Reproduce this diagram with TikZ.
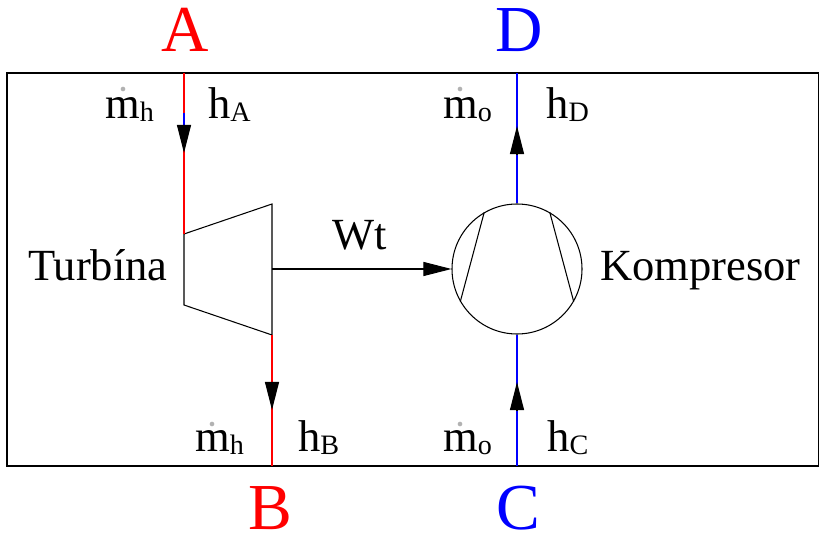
\documentclass[tikz,border=0pt]{standalone}
\usepackage{fontspec}
\setmainfont{Liberation Serif}
\usetikzlibrary{arrows.meta}
\newcommand{\biglabel}{\fontsize{56}{56}\selectfont}
\newcommand{\midlabel}{\fontsize{38}{38}\selectfont}
\newcommand{\sublabel}[2]{#1\raisebox{-2pt}{\fontsize{24}{24}\selectfont #2}}

\tikzset{
    pipe/.style={line width=0.9pt},
    flowtip/.style={-{Triangle[length=24pt,width=12pt]}},
    txt/.style={inner sep=0pt, anchor=base west, font=\midlabel},
    bigtxt/.style={inner sep=0pt, anchor=base, font=\biglabel},
    massdot/.style={circle, fill=black!30, inner sep=0pt, minimum size=4pt},
}

\begin{document}
\begin{tikzpicture}[x=0.03cm, y=0.03cm]
    \useasboundingbox (0,0) rectangle (819,533);

    % Define the outer frame
    \draw[pipe] (7,67) rectangle (819,460);

    % Define the ports on the frame
    \coordinate (Atop) at (184,460);
    \coordinate (Abl) at (184,420);
    \coordinate (Abt) at (184,408);
    \coordinate (Atip) at (184,380);
    \coordinate (Bbot) at (272,67);
    \coordinate (Bbt) at (272,151);
    \coordinate (Btip) at (272,123);
    \coordinate (Ctop) at (517,67);
    \coordinate (Cbot) at (517,123);
    \coordinate (Ctip) at (517,151);
    \coordinate (Dtop) at (517,460);
    \coordinate (Dbase) at (517,379);
    \coordinate (Dtip) at (517,407);

    % Turbine
    \coordinate (T1) at (184,299);
    \coordinate (T2) at (272,329);
    \coordinate (T3) at (272,198);
    \coordinate (T4) at (184,228);
    \coordinate (Tout) at (272,264);
    \draw[pipe] (T1) -- (T2) -- (T3) -- (T4) -- cycle;

    % Compressor
    \node[draw, pipe, circle, minimum size=130*0.03cm, inner sep=0pt] (comp) at (517,264) {};
    \draw[pipe] (comp.120) -- (comp.210);
    \draw[pipe] (comp.60) -- (comp.-30);

    % Streams
    \draw[pipe, red] (Atop) -- (T1);
    \draw[pipe, blue] (Abl) -- (Abt);
    \draw[pipe, flowtip, fill=black] (Abt) -- (Atip);
    \draw[pipe, red] (T3) -- (Bbot);
    \draw[pipe, flowtip, fill=black] (Bbt) -- (Btip);
    \draw[pipe, blue] (comp.south) -- (Cbot);
    \draw[pipe, blue] (Ctop) -- (Cbot);
    \draw[pipe, blue] (comp.north) -- (Dtop);
    \draw[pipe, flowtip, fill=black] (Cbot) -- (Ctip);
    \draw[pipe, flowtip, fill=black] (Dbase) -- (Dtip);
    \draw[pipe, flowtip, fill=black] (Tout) -- (comp.west);

    % Labels
    \node[bigtxt, red] (lA) at (185,481) {A};
    \node[bigtxt, blue] (lD) at (519,481) {D};
    \node[bigtxt, red] (lB) at (270,4) {B};
    \node[bigtxt, blue] (lC) at (518,4) {C};
    \node[txt] (lturb) at (28,252) {Turbína};
    \node[txt] (lkomp) at (600,252) {Kompresor};
    \node[txt] (lwt) at (332,283) {Wt};

    \node[txt] (mA) at (105,414) {\sublabel{m}{h}};
    \node[txt] (hA) at (208,414) {\sublabel{h}{A}};
    \node[txt] (mD) at (443,414) {\sublabel{m}{o}};
    \node[txt] (hD) at (546,414) {\sublabel{h}{D}};
    \node[txt] (mB) at (195,81) {\sublabel{m}{h}};
    \node[txt] (hB) at (298,81) {\sublabel{h}{B}};
    \node[txt] (mC) at (443,81) {\sublabel{m}{o}};
    \node[txt] (hC) at (547,81) {\sublabel{h}{C}};

    % Dots over the mass flows
    \foreach \px/\py/\dname in {123/444/dA,460/444/dD,212/109/dB,460/109/dC}
        \node[massdot] (\dname) at (\px,\py) {};
\end{tikzpicture}
\end{document}
